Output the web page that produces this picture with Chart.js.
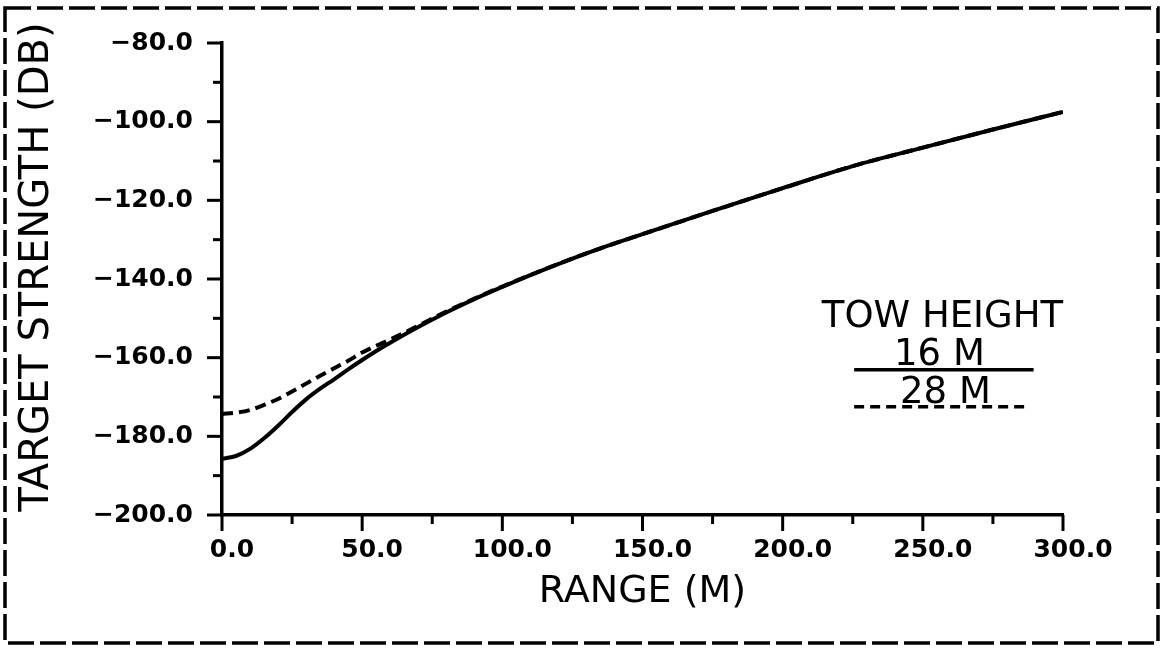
<!DOCTYPE html>
<html>
<head>
<meta charset="utf-8">
<script src="https://cdn.jsdelivr.net/npm/chart.js@4/dist/chart.umd.min.js"></script>
<style>
  html, body { margin: 0; padding: 0; background: #fff; }
  canvas { display: block; }
</style>
</head>
<body>
<canvas id="tsChart" width="1164" height="650"></canvas>
<script>
// range (m) sampled along both curves
const rangeM = [0, 5, 10, 15, 20, 25, 30, 35, 40, 45, 50, 55, 60, 70, 80, 90, 100, 110, 125, 135, 150, 175, 200, 225, 250, 275, 300];
// target strength (dB), tow height 16 m (solid)
const ts16m = [-185.7, -185.0, -183.2, -180.5, -177.3, -173.8, -170.6, -167.9, -165.5, -163.0, -160.6, -158.3, -156.2, -152.2, -148.5, -145.1, -142.0, -139.0, -134.8, -132.2, -128.6, -122.7, -116.9, -111.3, -106.6, -102.0, -97.5];
// target strength (dB), tow height 28 m (dashed)
const ts28m = [-174.3, -174.0, -173.3, -172.0, -170.5, -168.6, -166.6, -164.6, -162.7, -160.8, -158.7, -157.0, -155.4, -151.9, -148.3, -145.0, -141.9, -139.0, -134.8, -132.2, -128.6, -122.7, -116.9, -111.3, -106.6, -102.0, -97.5];

const rangeTicks = [0, 50, 100, 150, 200, 250, 300];
const tsTicks = [-200, -180, -160, -140, -120, -100, -80];
const seriesLabels = ['16 M', '28 M'];
const legendTitle = 'TOW HEIGHT';

const FONT = '"DejaVu Sans", "Liberation Sans", sans-serif';

function fmt(v) {
    return (v < 0 ? '\u2212' : '') + Math.abs(v).toFixed(1);
}

function seg(c, x1, y1, x2, y2) {
    c.beginPath(); c.moveTo(x1, y1); c.lineTo(x2, y2); c.stroke();
}

// frame, minor/major tick marks, y title and the legend block
const plotterMarks = {
    id: 'plotterMarks',
    beforeDraw(chart) {
        const c = chart.ctx;
        c.save();
        c.fillStyle = '#fff';
        c.fillRect(0, 0, chart.width, chart.height);
        c.strokeStyle = '#000';
        c.lineWidth = 3.5;
        c.setLineDash([26, 6]);
        c.strokeRect(5, 8, 1153, 635);
        c.restore();
    },
    afterDraw(chart) {
        const c = chart.ctx;
        const xs = chart.scales.x, ys = chart.scales.y;
        const ax = xs.left, ay = ys.bottom;
        c.save();
        c.strokeStyle = '#000';
        c.lineWidth = 3;

        // x ticks: majors from rangeTicks, minors half way between
        rangeTicks.forEach((v, i) => {
            const px = xs.getPixelForValue(v);
            seg(c, px, ay, px, ay + 16);
            if (i > 0) {
                const mx = xs.getPixelForValue((v + rangeTicks[i - 1]) / 2);
                seg(c, mx, ay, mx, ay + 9);
            }
        });
        tsTicks.forEach((v, i) => {
            const py = ys.getPixelForValue(v);
            seg(c, ax - 15, py, ax, py);
            if (i > 0) {
                const my = ys.getPixelForValue((v + tsTicks[i - 1]) / 2);
                seg(c, ax - 9, my, ax, my);
            }
        });

        // y axis title
        c.fillStyle = '#000';
        c.font = '40px ' + FONT;
        c.textAlign = 'center';
        c.textBaseline = 'middle';
        c.save();
        c.translate(38, 267);
        c.rotate(-Math.PI / 2);
        c.fillText('TARGET STRENGTH (DB)', 0, 0);
        c.restore();

        // legend, placed in data units
        const cx = xs.getPixelForValue(257);
        c.font = '37px ' + FONT;
        c.textBaseline = 'alphabetic';
        c.fillText(legendTitle, cx, ys.getPixelForValue(-152.2));
        c.fillText(seriesLabels[0], cx - 3, ys.getPixelForValue(-161.9));
        c.fillText(seriesLabels[1], cx + 3, ys.getPixelForValue(-171.5));

        c.lineWidth = 3.5;
        const lx1 = xs.getPixelForValue(225.5), lx2 = xs.getPixelForValue(289.5);
        seg(c, lx1, ys.getPixelForValue(-163.1), lx2, ys.getPixelForValue(-163.1));
        c.setLineDash([10, 6]);
        seg(c, lx1, ys.getPixelForValue(-172.5), xs.getPixelForValue(288), ys.getPixelForValue(-172.5));
        c.restore();
    }
};

const ctx = document.getElementById('tsChart');
new Chart(ctx, {
    type: 'line',
    data: {
        datasets: [{
            label: seriesLabels[0],
            data: rangeM.map((r, i) => ({ x: r, y: ts16m[i] })),
            borderColor: '#000',
            borderWidth: 4,
            pointRadius: 0,
            cubicInterpolationMode: 'monotone'
        }, {
            label: seriesLabels[1],
            data: rangeM.map((r, i) => ({ x: r, y: ts28m[i] })),
            borderColor: '#000',
            borderWidth: 4,
            borderDash: [11, 6],
            pointRadius: 0,
            cubicInterpolationMode: 'monotone'
        }]
    },
    options: {
        responsive: false,
        animation: false,
        devicePixelRatio: 1,
        layout: { padding: { left: 0, top: 43, right: 101, bottom: 0 } },
        plugins: { legend: { display: false }, tooltip: { enabled: false } },
        scales: {
            x: {
                type: 'linear',
                min: 0, max: 300,
                afterBuildTicks: s => { s.ticks = rangeTicks.map(v => ({ value: v })); },
                afterFit: s => { s.height = 135; },
                grid: { display: false, tickLength: 14 },
                border: { display: true, color: '#000', width: 3.5 },
                ticks: {
                    color: '#000',
                    font: { family: FONT, size: 25, weight: 'bold' },
                    padding: 6,
                    labelOffset: 10,
                    maxRotation: 0,
                    callback: v => fmt(v)
                },
                title: {
                    display: true,
                    text: 'RANGE (M)',
                    color: '#000',
                    font: { family: FONT, size: 38 },
                    padding: { top: 0, bottom: 35 }
                }
            },
            y: {
                min: -200, max: -80,
                afterBuildTicks: s => { s.ticks = tsTicks.map(v => ({ value: v })); },
                afterFit: s => { s.width = 222; },
                grid: { display: false, tickLength: 18 },
                border: { display: true, color: '#000', width: 3.5 },
                ticks: {
                    color: '#000',
                    font: { family: FONT, size: 25, weight: 'bold' },
                    padding: 11,
                    callback: v => fmt(v)
                }
            }
        }
    },
    plugins: [plotterMarks]
});
</script>
</body>
</html>
